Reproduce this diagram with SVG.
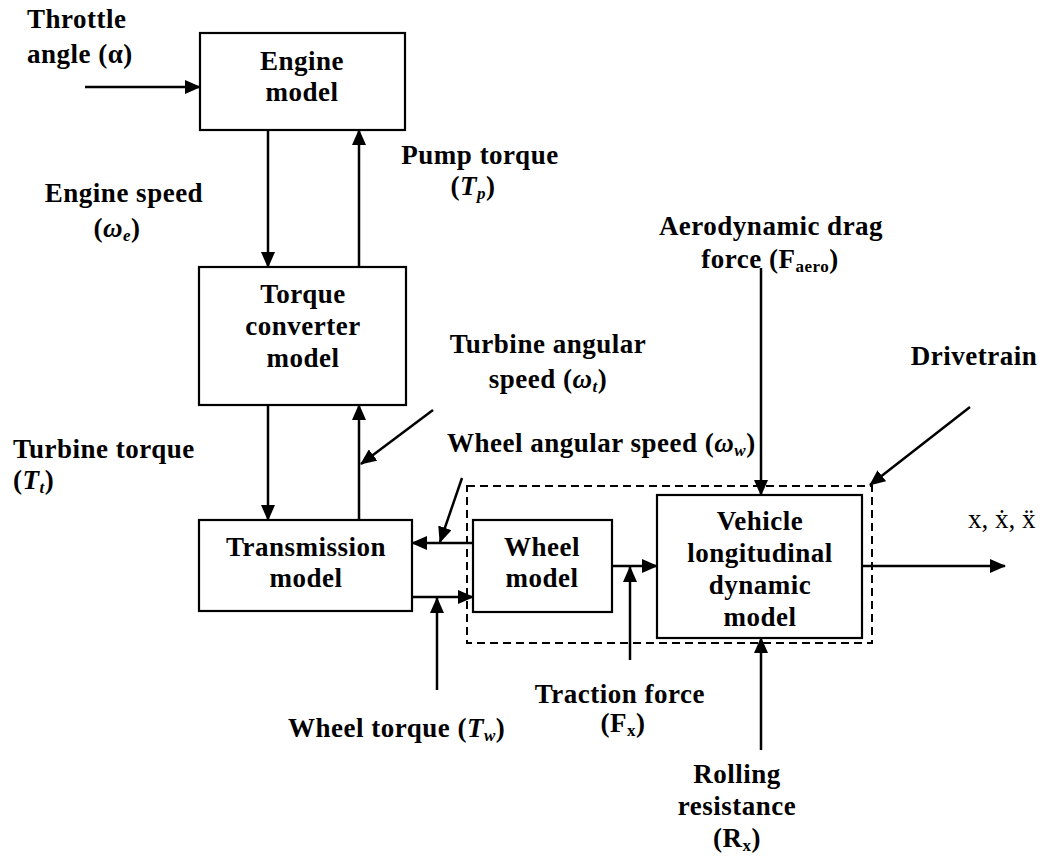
<svg xmlns="http://www.w3.org/2000/svg" width="1048" height="857" viewBox="0 0 1048 857">
<style>
text{font-family:"Liberation Serif","Times New Roman",serif;font-weight:bold;font-size:27px;letter-spacing:0.5px;fill:#000}
.c{text-anchor:middle}
.box{fill:#fff;stroke:#000;stroke-width:2.2}
.ar{stroke:#000;stroke-width:2.5;fill:none;marker-end:url(#ah)}
.it{font-style:italic}
.sub{font-size:17px}
</style>
<defs>
<marker id="ah" markerUnits="userSpaceOnUse" markerWidth="16" markerHeight="14" refX="15" refY="7" orient="auto">
<path d="M0,0 L16,7 L0,14 Z" fill="#000"/>
</marker>
</defs>
<rect width="1048" height="857" fill="#fff"/>
<g id="connectors">
<line class="ar" x1="85" y1="87" x2="200" y2="87"/>
<line class="ar" x1="268" y1="130" x2="268" y2="267"/>
<line class="ar" x1="359" y1="267" x2="359" y2="130"/>
<line class="ar" x1="268" y1="405" x2="268" y2="520"/>
<line class="ar" x1="359" y1="520" x2="359" y2="405"/>
<line class="ar" x1="433" y1="410" x2="361" y2="464"/>
<line class="ar" x1="462" y1="478" x2="440" y2="542"/>
<line class="ar" x1="473" y1="543" x2="412" y2="543"/>
<line class="ar" x1="412" y1="597" x2="473" y2="597"/>
<line class="ar" x1="437" y1="690" x2="437" y2="598"/>
<line class="ar" x1="612" y1="566" x2="657" y2="566"/>
<line class="ar" x1="630" y1="660" x2="630" y2="567"/>
<line class="ar" x1="761" y1="268" x2="761" y2="495"/>
<line class="ar" x1="761" y1="750" x2="761" y2="638"/>
<line class="ar" x1="862" y1="566" x2="1005" y2="566"/>
<line class="ar" x1="970" y1="407" x2="870" y2="485"/>
<rect x="467" y="486" width="405" height="157" fill="none" stroke="#000" stroke-width="2" stroke-dasharray="8,5"/>
</g>
<g id="engine">
<rect class="box" x="200" y="33" width="205" height="97"/>
<text class="c" x="302" y="70">Engine</text>
<text class="c" x="302" y="101">model</text>
</g>
<g id="torque-converter">
<rect class="box" x="199" y="267" width="207" height="138"/>
<text class="c" x="303" y="303">Torque</text>
<text class="c" x="303" y="335">converter</text>
<text class="c" x="303" y="367">model</text>
</g>
<g id="transmission">
<rect class="box" x="199" y="520" width="213" height="91"/>
<text class="c" x="306" y="556">Transmission</text>
<text class="c" x="306" y="587">model</text>
</g>
<g id="wheel">
<rect class="box" x="473" y="520" width="139" height="92"/>
<text class="c" x="542" y="556">Wheel</text>
<text class="c" x="542" y="587">model</text>
</g>
<g id="vehicle">
<rect class="box" x="657" y="495" width="205" height="143"/>
<text class="c" x="760" y="530">Vehicle</text>
<text class="c" x="760" y="562">longitudinal</text>
<text class="c" x="760" y="594">dynamic</text>
<text class="c" x="760" y="626">model</text>
</g>
<g id="labels">
<text x="27" y="28">Throttle</text>
<text x="27" y="63">angle (α)</text>
<text class="c" x="124" y="202">Engine speed</text>
<text class="c" x="117" y="237">(<tspan class="it">ω</tspan><tspan class="it sub" dy="4">e</tspan><tspan dy="-4">)</tspan></text>
<text class="c" x="480" y="164">Pump torque</text>
<text class="c" x="473" y="195">(<tspan class="it">T</tspan><tspan class="it sub" dy="4">p</tspan><tspan dy="-4">)</tspan></text>
<text class="c" x="771" y="235">Aerodynamic drag</text>
<text class="c" x="770" y="268">force (F<tspan class="sub" dy="4">aero</tspan><tspan dy="-4">)</tspan></text>
<text class="c" x="548" y="353">Turbine angular</text>
<text class="c" x="548" y="388">speed (<tspan class="it">ω</tspan><tspan class="it sub" dy="4">t</tspan><tspan dy="-4">)</tspan></text>
<text class="c" x="974" y="365">Drivetrain</text>
<text x="13" y="458">Turbine torque</text>
<text x="13" y="489">(<tspan class="it">T</tspan><tspan class="it sub" dy="4">t</tspan><tspan dy="-4">)</tspan></text>
<text x="447" y="452">Wheel angular speed (<tspan class="it">ω</tspan><tspan class="it sub" dy="4">w</tspan><tspan dy="-4">)</tspan></text>
<text x="968" y="528" style="font-weight:normal;letter-spacing:0">x, ẋ, ẍ</text>
<text x="288" y="737">Wheel torque (<tspan class="it">T</tspan><tspan class="it sub" dy="4">w</tspan><tspan dy="-4">)</tspan></text>
<text x="705" y="703" style="text-anchor:end">Traction force</text>
<text class="c" x="623" y="732">(F<tspan class="sub" dy="4">x</tspan><tspan dy="-4">)</tspan></text>
<text class="c" x="737" y="783">Rolling</text>
<text class="c" x="737" y="815">resistance</text>
<text class="c" x="737" y="847">(R<tspan class="sub" dy="4">x</tspan><tspan dy="-4">)</tspan></text>
</g>
</svg>
